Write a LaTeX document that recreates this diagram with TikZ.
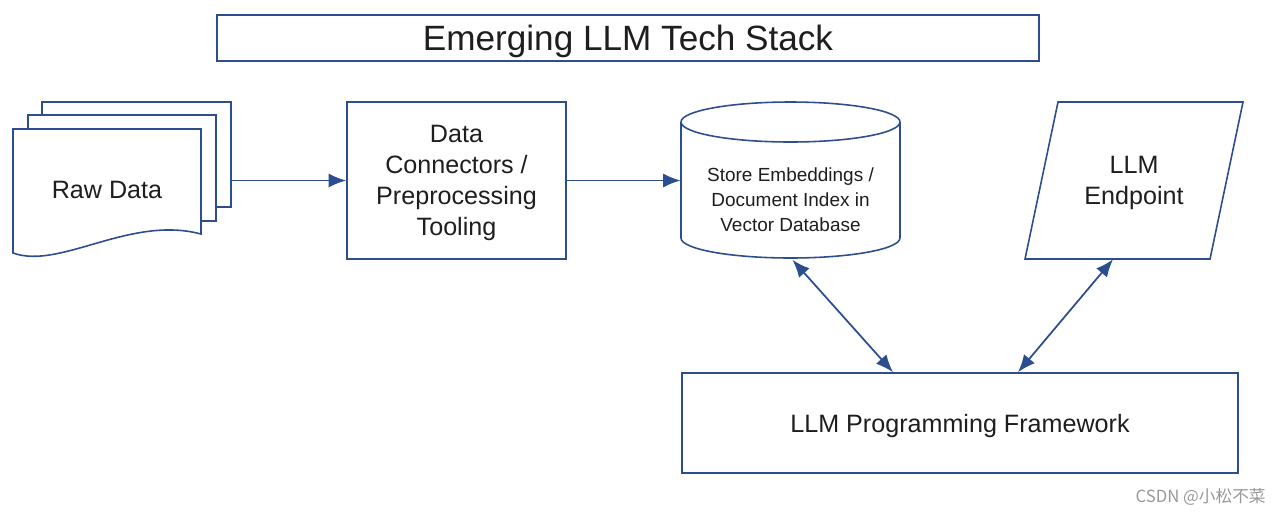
\documentclass[tikz,border=0pt]{standalone}
\usepackage{fontspec}
\setmainfont{Liberation Sans}
\newfontfamily\cjkfont{Noto Sans CJK SC}
\usetikzlibrary{arrows.meta,calc}
\definecolor{stackblue}{RGB}{44,78,142}
\definecolor{stacktext}{RGB}{30,30,30}
\tikzset{
	outline/.style={draw=stackblue, line width=0.9pt, fill=white},
	box/.style={outline, text=stacktext, align=center, inner sep=0pt, text depth=0pt, font=\fontsize{14.3}{17.6}\selectfont},
	label/.style={text=stacktext, align=center, inner sep=0pt, text depth=0pt, font=\fontsize{14.3}{17.6}\selectfont},
	link/.style={stackblue, line width=1pt, -{Latex[length=10pt,width=8pt]}},
	twolink/.style={stackblue, line width=1pt, {Latex[length=10pt,width=8pt]}-{Latex[length=10pt,width=8pt]}}
}
\begin{document}
\begin{tikzpicture}[x=0.02cm, y=-0.02cm]
		\fill[white] (0,0) rectangle (1280,515);
		\useasboundingbox (0,0) rectangle (1280,515);
		\node[box, minimum width=16.44cm, minimum height=0.92cm, font=\fontsize{20}{24}\selectfont] (title) at (628,38) {Emerging LLM Tech Stack};
		\node[box, minimum width=3.78cm, minimum height=2.1cm] (rawc) at (136.5,154.5) {};
		\node[box, minimum width=3.76cm, minimum height=2.12cm] (rawb) at (122,168) {};
		\path[outline] (13,129) -- (201,129) -- (201,234) .. controls (130,215) and (60,270) .. (13,253) -- cycle;
		\node[label] (raw) at (107,190) {Raw Data};
		\node[box, minimum width=4.38cm, minimum height=3.14cm] (data) at (456.5,180.5) {Data\\Connectors /\\Preprocessing\\Tooling};
		\path[outline] (681,122) -- (681,238) arc[start angle=180, end angle=360, x radius=2.19cm, y radius=0.4cm] -- (900,122);
		\draw[outline] (790.5,122) ellipse [x radius=2.19cm, y radius=0.4cm];
		\node[minimum width=4.38cm, minimum height=3.12cm, inner sep=0pt] (db) at (790.5,180.5) {};
		\node[label, font=\fontsize{10.8}{14.2}\selectfont] (dbtext) at (790.5,200) {Store Embeddings /\\Document Index in\\Vector Database};
		\path[outline] (1058,102) -- (1243,102) -- (1210,259) -- (1025,259) -- cycle;
		\node[label, minimum height=3.14cm] (ep) at (1134,180.5) {LLM\\Endpoint};
		\node[box, minimum width=11.12cm, minimum height=2cm] (fw) at (960,423) {LLM Programming Framework};
		\node[anchor=east, inner sep=0pt, text=black!40, font=\cjkfont\fontsize{9.5}{11}\selectfont] (mark) at (1266,497) {CSDN @小松不菜};
		\draw[link] (rawc.east |- data.west) -- (data.west);
		\draw[link] (data.east) -- (db.west);
		\draw[twolink] ($(db.south)+(2,1)$) -- ($(fw.north)+(-67,0)$);
		\draw[twolink] ($(ep.south)+(-21,0)$) -- ($(fw.north)+(58,0)$);
	\end{tikzpicture}
\end{document}
